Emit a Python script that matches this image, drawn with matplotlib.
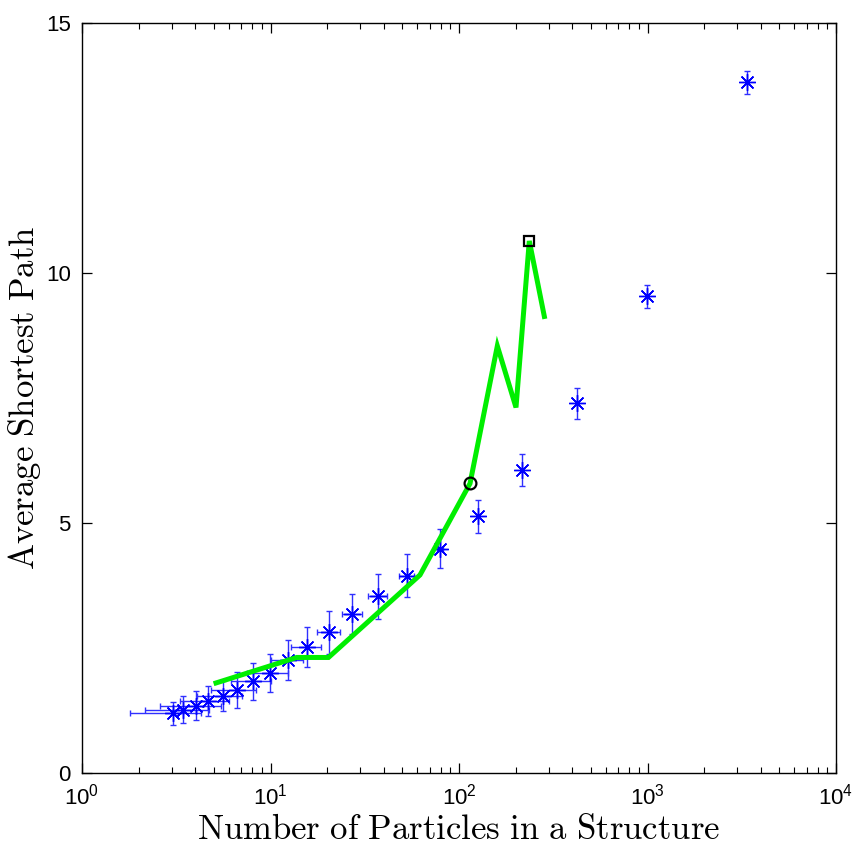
import numpy as np
import matplotlib
matplotlib.use("Agg")
import matplotlib.pyplot as plt

plt.rcParams["font.family"] = ["Liberation Sans", "DejaVu Sans"]

# -----------------------------------------------------
# measured data (asterisks with error bars)
# -----------------------------------------------------
n_particles = [3.04, 3.45, 4.01, 4.68, 5.57, 6.62, 8.11, 9.94, 12.4, 15.7,
               20.5, 27.2, 37.2, 52.8, 79.3, 125.6, 215, 421, 998, 3357]
path_mean = [1.19, 1.26, 1.34, 1.43, 1.54, 1.66, 1.83, 1.99, 2.26, 2.51,
             2.81, 3.17, 3.53, 3.94, 4.48, 5.13, 6.06, 7.39, 9.53, 13.81]
path_err = [0.23, 0.27, 0.29, 0.30, 0.30, 0.36, 0.37, 0.38, 0.40, 0.40,
            0.43, 0.40, 0.45, 0.43, 0.39, 0.33, 0.32, 0.31, 0.23, 0.23]
n_err = [1.24, 1.29, 1.42, 1.37, 1.50, 1.80, 1.90, 2.40, 2.40, 2.80,
         2.90, 3.30, 4.30, 5.00, 3.00, 0, 0, 0, 0, 0]

# -----------------------------------------------------
# model curve (green)
# -----------------------------------------------------
model_n = [5.14, 13.77, 20.3, 62.1, 114.4, 159.7, 200.6, 236, 283.6]
model_path = [1.80, 2.31, 2.31, 3.96, 5.79, 8.54, 7.31, 10.64, 9.13]

circle_n, circle_path = 114.4, 5.79
square_n, square_path = 236, 10.64

fig = plt.figure(figsize=(8.55, 8.51), dpi=100)
ax = fig.add_axes([0.0959, 0.0917, 0.8819, 0.8813])

ax.errorbar(n_particles, path_mean, yerr=path_err, xerr=n_err,
            fmt="none", ecolor="#3030ff", elinewidth=1.0, capsize=2.5,
            capthick=1.0, zorder=2)
ax.plot(n_particles, path_mean, linestyle="none", marker=(8, 2, 0),
        markersize=12, markeredgewidth=1.0, color="#0000ff", zorder=3)

ax.plot(model_n, model_path, color="#00ee00", linewidth=3.6,
        solid_joinstyle="miter", zorder=4)
ax.plot([circle_n], [circle_path], marker="o", markersize=8.5,
        markerfacecolor="none", markeredgecolor="black",
        markeredgewidth=1.6, zorder=5)
ax.plot([square_n], [square_path], marker="s", markersize=7.5,
        markerfacecolor="none", markeredgecolor="black",
        markeredgewidth=1.6, zorder=5)

ax.set_xscale("log")
ax.set_xlim(1, 1e4)
ax.set_ylim(0, 15)
ax.set_yticks([0, 5, 10, 15])

ax.tick_params(which="both", direction="in", top=True, right=True,
               labelsize=16, pad=8)
ax.tick_params(which="major", length=7, width=0.9)
ax.tick_params(which="minor", length=4, width=0.8)
for spine in ax.spines.values():
    spine.set_linewidth(1.0)

ax.set_xlabel(r"$\mathrm{Number\ of\ Particles\ in\ a\ Structure}$",
              math_fontfamily="cm", fontsize=25, labelpad=2)
ax.set_ylabel(r"$\mathrm{Average\ Shortest\ Path}$",
              math_fontfamily="cm", fontsize=25, labelpad=2)

plt.savefig("out.png", dpi=100)
